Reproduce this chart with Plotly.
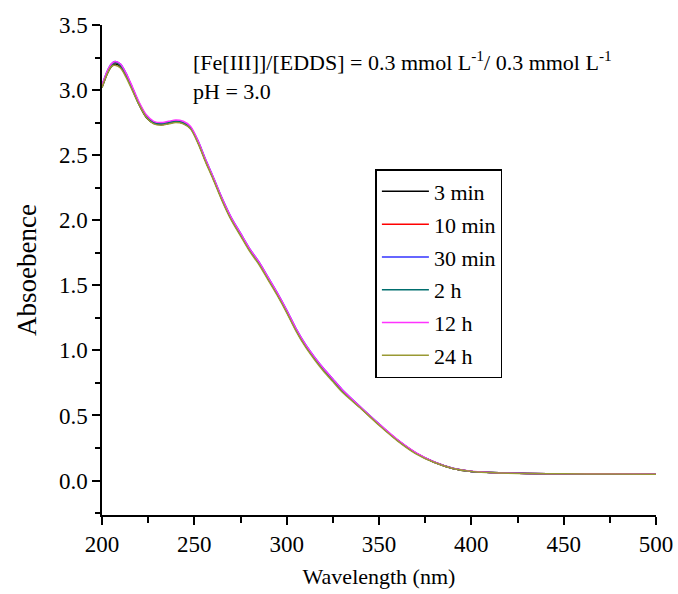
import plotly.graph_objects as go

wavelength = [200, 203, 205, 207, 210, 213, 216, 220, 224, 228, 232, 236, 240, 244, 248,
              252, 256, 260, 265, 270, 275, 280, 285, 290, 295, 300, 305, 310, 315, 320,
              325, 330, 340, 350, 360, 370, 380, 390, 400, 410, 420, 430, 450, 475, 500]

abs_3min = [3.02, 3.13, 3.18, 3.20, 3.18, 3.11, 3.02, 2.89, 2.79, 2.745, 2.735, 2.745, 2.755, 2.745, 2.705,
            2.60, 2.46, 2.33, 2.16, 2.01, 1.89, 1.77, 1.67, 1.55, 1.43, 1.30, 1.16, 1.04, 0.94, 0.85,
            0.77, 0.69, 0.56, 0.43, 0.31, 0.21, 0.14, 0.093, 0.07, 0.062, 0.057, 0.054, 0.052, 0.051, 0.05]
abs_10min = [3.03, 3.14, 3.19, 3.21, 3.19, 3.12, 3.03, 2.90, 2.80, 2.75, 2.74, 2.75, 2.76, 2.75, 2.71,
             2.60, 2.46, 2.33, 2.16, 2.01, 1.89, 1.77, 1.67, 1.55, 1.43, 1.30, 1.16, 1.04, 0.94, 0.85,
             0.77, 0.69, 0.56, 0.43, 0.31, 0.21, 0.14, 0.093, 0.07, 0.062, 0.057, 0.054, 0.052, 0.051, 0.05]
abs_30min = [3.04, 3.15, 3.20, 3.22, 3.20, 3.13, 3.03, 2.90, 2.80, 2.75, 2.74, 2.75, 2.76, 2.75, 2.71,
             2.61, 2.47, 2.34, 2.17, 2.02, 1.90, 1.78, 1.68, 1.56, 1.44, 1.31, 1.17, 1.05, 0.95, 0.86,
             0.78, 0.70, 0.565, 0.435, 0.31, 0.21, 0.14, 0.094, 0.07, 0.062, 0.057, 0.054, 0.052, 0.051, 0.05]
abs_2h = [3.03, 3.14, 3.19, 3.21, 3.19, 3.12, 3.03, 2.90, 2.80, 2.75, 2.74, 2.75, 2.76, 2.75, 2.71,
          2.60, 2.46, 2.33, 2.16, 2.01, 1.89, 1.77, 1.67, 1.55, 1.43, 1.30, 1.16, 1.04, 0.94, 0.85,
          0.77, 0.69, 0.56, 0.43, 0.31, 0.21, 0.14, 0.093, 0.07, 0.062, 0.057, 0.054, 0.052, 0.051, 0.05]
abs_12h = [3.04, 3.15, 3.20, 3.22, 3.20, 3.13, 3.04, 2.91, 2.81, 2.76, 2.75, 2.76, 2.77, 2.76, 2.72,
           2.61, 2.47, 2.34, 2.17, 2.02, 1.90, 1.78, 1.68, 1.56, 1.44, 1.31, 1.17, 1.05, 0.95, 0.86,
           0.78, 0.70, 0.565, 0.435, 0.315, 0.215, 0.142, 0.094, 0.071, 0.062, 0.057, 0.054, 0.052, 0.051, 0.05]
abs_24h = [3.02, 3.13, 3.18, 3.19, 3.17, 3.10, 3.01, 2.89, 2.79, 2.74, 2.73, 2.74, 2.75, 2.74, 2.70,
           2.59, 2.45, 2.32, 2.15, 2.00, 1.88, 1.76, 1.66, 1.54, 1.42, 1.29, 1.15, 1.03, 0.93, 0.84,
           0.76, 0.68, 0.555, 0.425, 0.305, 0.205, 0.138, 0.092, 0.069, 0.061, 0.056, 0.053, 0.051, 0.05, 0.049]

series_names = ["3 min", "10 min", "30 min", "2 h", "12 h", "24 h"]
series_values = [abs_3min, abs_10min, abs_30min, abs_2h, abs_12h, abs_24h]
series_colors = ["#000000", "#ff0000", "#3333ff", "#006e6e", "#ff33ff", "#999933"]

x_ticks = [200, 250, 300, 350, 400, 450, 500]
y_ticks = [0.0, 0.5, 1.0, 1.5, 2.0, 2.5, 3.0, 3.5]

note_text = "[Fe[III]]/[EDDS] = 0.3 mmol L<sup>-1</sup>/ 0.3 mmol L<sup>-1</sup><br>pH = 3.0"

FONT = "Times New Roman, Liberation Serif, DejaVu Serif, serif"

fig = go.Figure()
for name, vals, col in zip(series_names, series_values, series_colors):
    fig.add_trace(go.Scatter(x=wavelength, y=vals, mode="lines", name=name, legendgroup=name,
                             line=dict(color=col, width=1.5, shape="spline", smoothing=0.8)))

fig.update_layout(
    width=678, height=594,
    margin=dict(l=102, r=22, t=25, b=79),
    paper_bgcolor="white", plot_bgcolor="white",
    font=dict(family=FONT, size=22, color="black"),
    showlegend=True,
    legend=dict(x=0.4935, y=0.706, xanchor="left", yanchor="top",
                bordercolor="black", borderwidth=1.5, bgcolor="white",
                font=dict(family=FONT, size=22, color="black"), tracegroupgap=1.2,
                itemwidth=47),
    xaxis=dict(range=[200, 500], tickvals=x_ticks, ticktext=[str(v) for v in x_ticks],
               automargin=False,
               showgrid=False, zeroline=False, showline=True, linecolor="black", linewidth=1.5,
               ticks="outside", ticklen=8, tickwidth=1.5, tickcolor="black",
               tickfont=dict(family=FONT, size=23, color="black"),
               minor=dict(dtick=25, ticks="outside", ticklen=6, tickwidth=1.5, tickcolor="black", showgrid=False),
               title=dict(text="Wavelength (nm)", font=dict(family=FONT, size=22, color="black"), standoff=12)),
    yaxis=dict(range=[-0.265, 3.5], tickvals=y_ticks, ticktext=[f"{v:.1f}" for v in y_ticks],
               automargin=False,
               showgrid=False, zeroline=False, showline=True, linecolor="black", linewidth=1.5,
               ticks="outside", ticklen=8, tickwidth=1.5, tickcolor="black",
               tickfont=dict(family=FONT, size=23, color="black"),
               minor=dict(dtick=0.25, ticks="outside", ticklen=5, tickwidth=1.5, tickcolor="black", showgrid=False),
               title=dict(text="Absoebence", font=dict(family=FONT, size=27, color="black"), standoff=14)),
)

fig.add_annotation(xref="paper", yref="paper", x=(191 - 102) / 554, y=(515 - 45) / 490,
                   xanchor="left", yanchor="top", showarrow=False, align="left",
                   text=note_text, font=dict(family=FONT, size=22, color="black"))

fig.write_html("out.html", config={"displayModeBar": False},
               post_script="document.body.style.margin='0';")
